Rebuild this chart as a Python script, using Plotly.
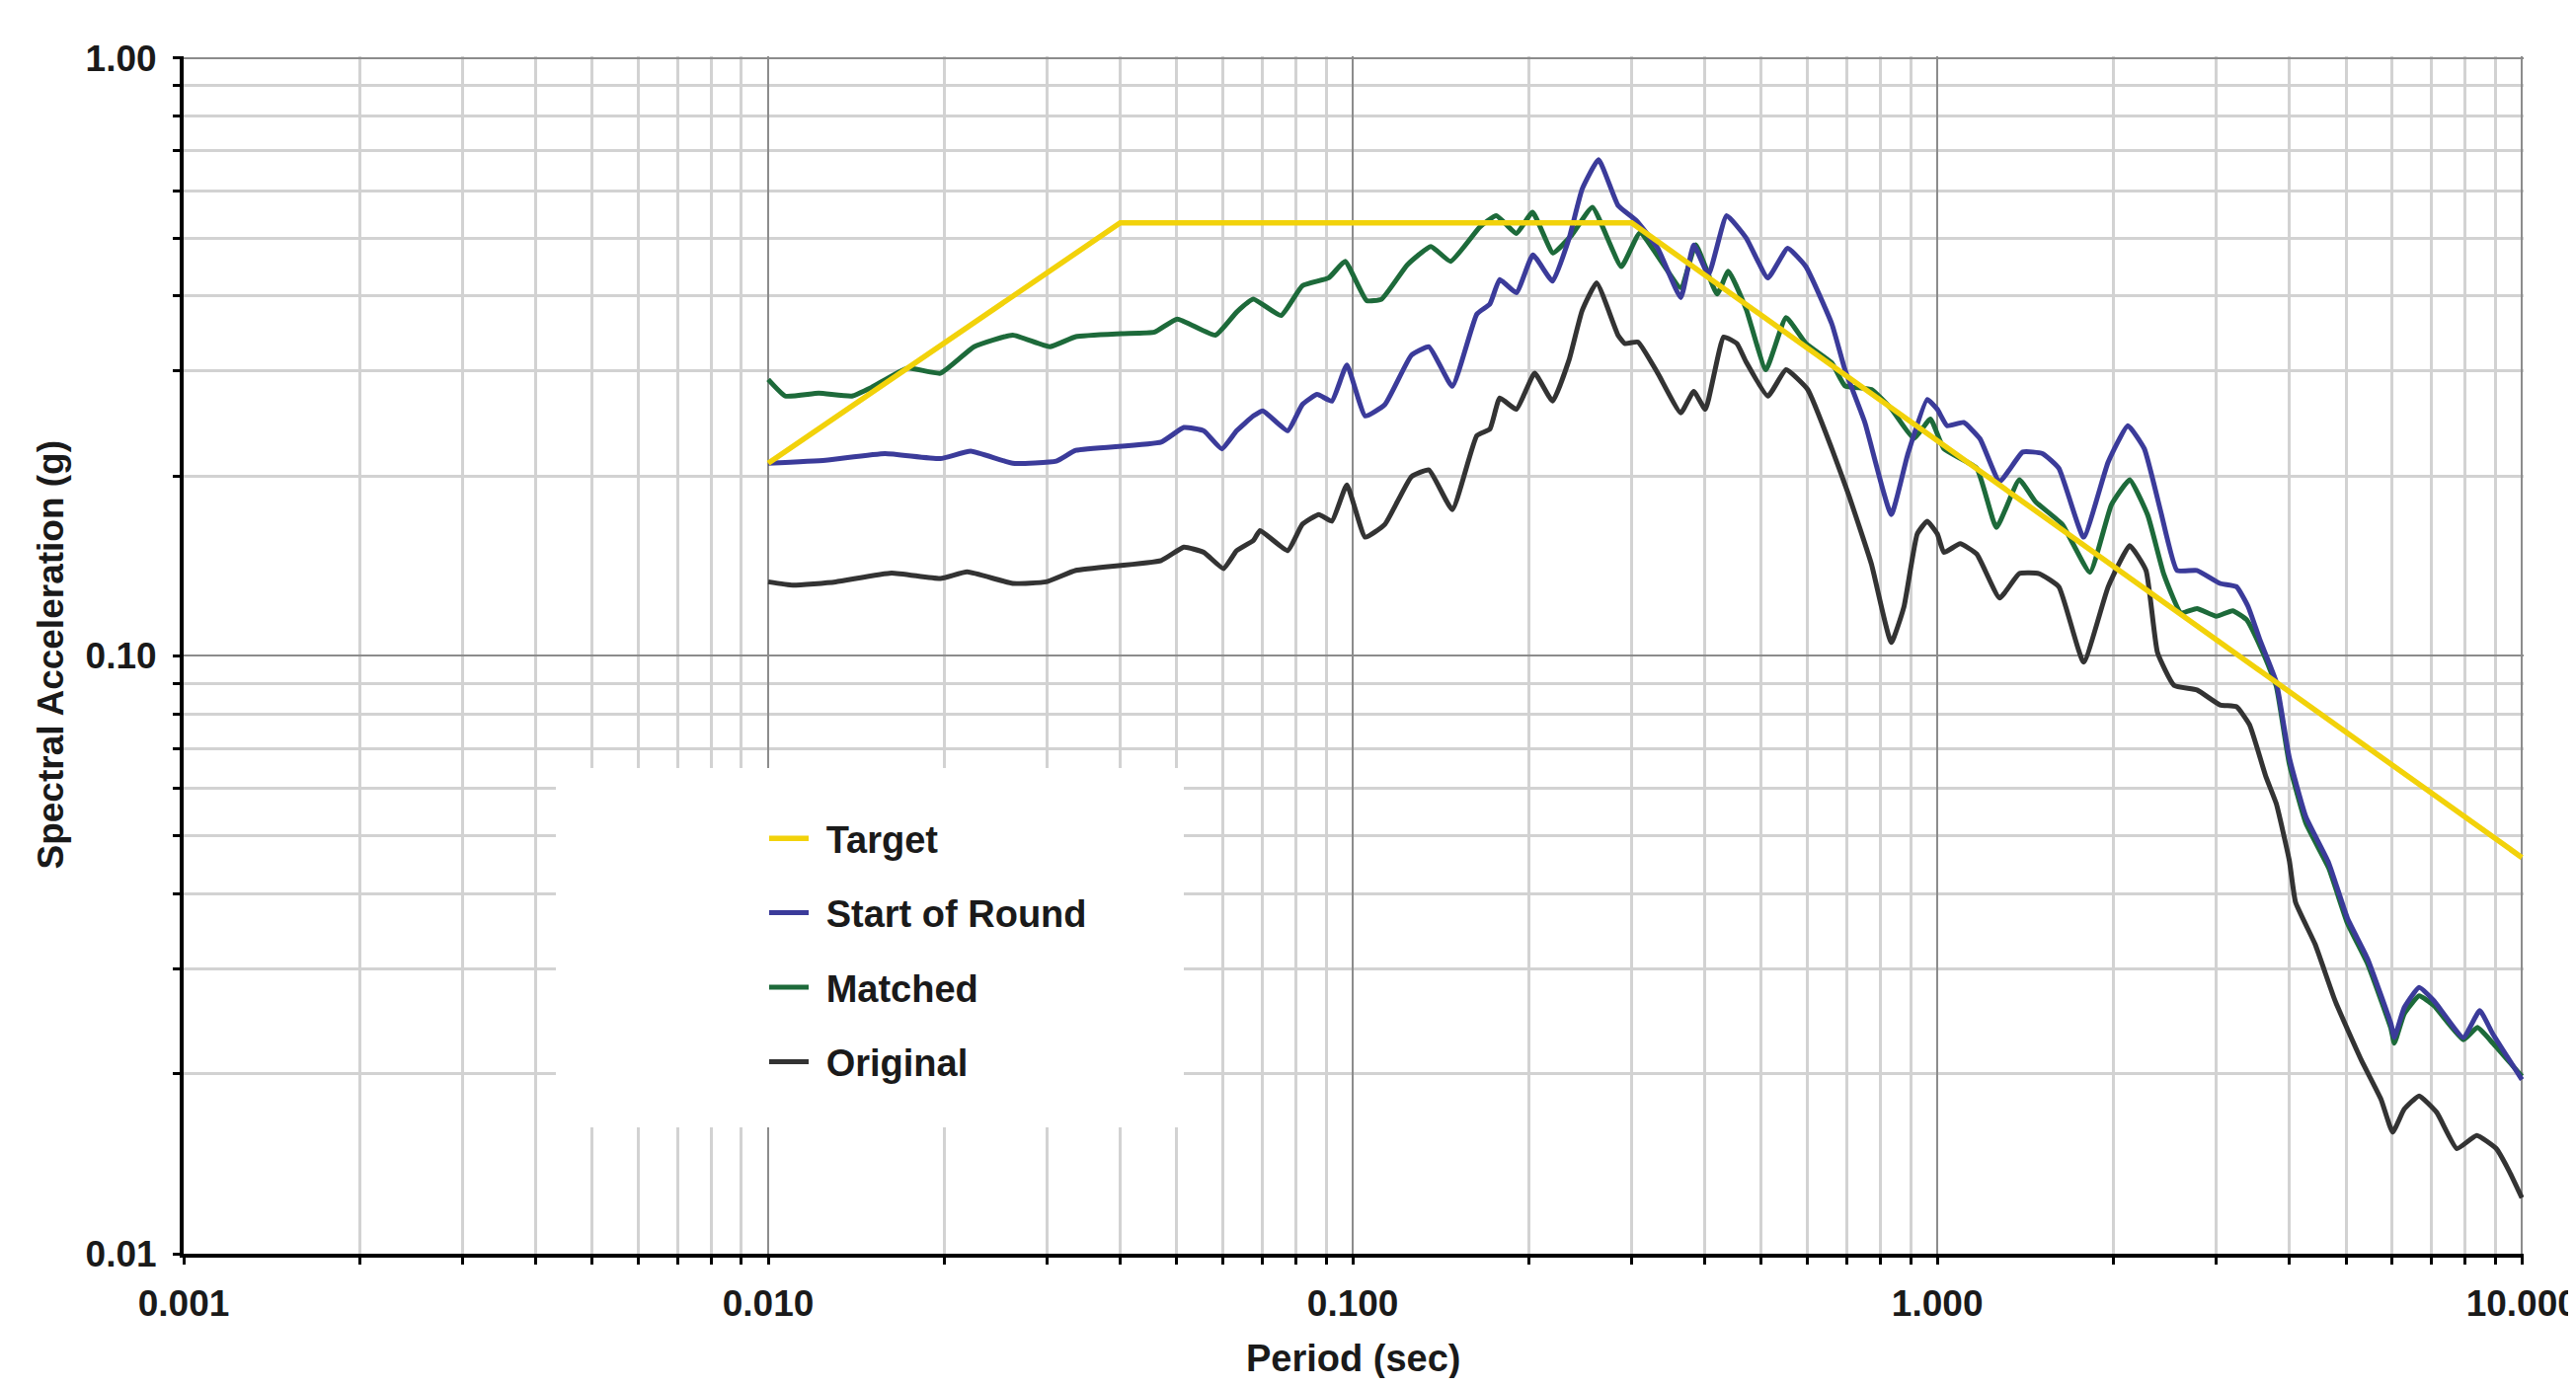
import plotly.graph_objects as go

# ─── Data ─────────────────────────────────────────────────────────────────────

target_period = [0.010, 0.040, 0.300, 10.0]
target_sa = [0.210, 0.530, 0.530, 0.046]

start_period = [
    0.0100, 0.01253, 0.01584, 0.0197, 0.0222, 0.0262, 0.0311, 0.0336, 0.0470, 0.0514,
    0.0556, 0.0597, 0.0633, 0.0676, 0.0702, 0.0774, 0.0820, 0.0869, 0.0921, 0.0977,
    0.105, 0.1135, 0.126, 0.135, 0.148, 0.163, 0.1716, 0.1784, 0.1905, 0.2033,
    0.2197, 0.2344, 0.2468, 0.2633, 0.2844, 0.3053, 0.3325, 0.364, 0.383, 0.406,
    0.436, 0.471, 0.513, 0.5545, 0.5957, 0.660, 0.695, 0.7516, 0.834, 0.889,
    0.961, 1.000, 1.039, 1.109, 1.183, 1.278, 1.400, 1.513, 1.614, 1.779,
    1.960, 2.118, 2.260, 2.410, 2.570, 2.780, 3.045, 3.250, 3.400, 3.560,
    3.800, 4.000, 4.270, 4.670, 5.030, 5.440, 5.970, 6.050, 6.290, 6.670,
    7.070, 7.940, 8.470, 8.920, 10.0,
]
start_sa = [
    0.210, 0.2125, 0.218, 0.2138, 0.220, 0.210, 0.2117, 0.2207, 0.2278, 0.241,
    0.238, 0.222, 0.238, 0.252, 0.257, 0.238, 0.2634, 0.2737, 0.2668, 0.3067,
    0.252, 0.2634, 0.3185, 0.3288, 0.2825, 0.373, 0.3877, 0.426, 0.405, 0.4685,
    0.4234, 0.4992, 0.6035, 0.676, 0.5664, 0.535, 0.4806, 0.3976, 0.4866, 0.4342,
    0.545, 0.500, 0.4287, 0.4806, 0.448, 0.359, 0.301, 0.2457, 0.1724, 0.2166,
    0.2685, 0.2585, 0.2427, 0.2457, 0.2307, 0.1957, 0.2193, 0.218, 0.206, 0.158,
    0.211, 0.2427, 0.222, 0.1746, 0.139, 0.139, 0.1322, 0.1305, 0.121, 0.1066,
    0.0904, 0.0676, 0.0538, 0.0451, 0.0364, 0.0312, 0.02425, 0.0230, 0.0258, 0.0279,
    0.0265, 0.0230, 0.0255, 0.0233, 0.01955,
]

matched_period = [
    0.0100, 0.0107, 0.0122, 0.0139, 0.0150, 0.0173, 0.0197, 0.0225, 0.0262, 0.0303,
    0.0336, 0.0402, 0.0458, 0.0501, 0.0582, 0.0633, 0.0676, 0.0754, 0.0820, 0.0910,
    0.0970, 0.1056, 0.112, 0.124, 0.136, 0.147, 0.165, 0.176, 0.1905, 0.203,
    0.220, 0.237, 0.257, 0.288, 0.310, 0.364, 0.386, 0.420, 0.439, 0.471,
    0.509, 0.551, 0.596, 0.660, 0.695, 0.771, 0.834, 0.912, 0.973, 1.026,
    1.168, 1.262, 1.381, 1.473, 1.635, 1.824, 1.985, 2.133, 2.290, 2.440,
    2.610, 2.780, 3.000, 3.200, 3.380, 3.610, 3.800, 4.000, 4.270, 4.670,
    5.030, 5.440, 5.970, 6.050, 6.290, 6.670, 7.070, 7.940, 8.390, 8.920,
    10.0,
]
matched_sa = [
    0.290, 0.272, 0.275, 0.272, 0.281, 0.303, 0.297, 0.329, 0.344, 0.329,
    0.342, 0.346, 0.348, 0.366, 0.344, 0.376, 0.395, 0.371, 0.416, 0.429,
    0.457, 0.393, 0.395, 0.451, 0.484, 0.457, 0.522, 0.545, 0.509, 0.552,
    0.472, 0.506, 0.563, 0.448, 0.510, 0.413, 0.487, 0.403, 0.440, 0.380,
    0.301, 0.368, 0.333, 0.309, 0.283, 0.279, 0.259, 0.231, 0.249, 0.222,
    0.206, 0.164, 0.197, 0.181, 0.166, 0.138, 0.179, 0.197, 0.172, 0.137,
    0.118, 0.120, 0.1165, 0.119, 0.115, 0.101, 0.089, 0.066, 0.0525, 0.0442,
    0.0357, 0.0306, 0.0238, 0.0225, 0.0252, 0.0270, 0.0260, 0.0228, 0.0239, 0.0225,
    0.0198,
]

original_period = [
    0.0100, 0.01102, 0.01304, 0.01625, 0.0197, 0.0219, 0.0262, 0.0299, 0.0336, 0.0470,
    0.0514, 0.0556, 0.0601, 0.0633, 0.0676, 0.0694, 0.0774, 0.0820, 0.0875, 0.0921,
    0.0977, 0.105, 0.1135, 0.126, 0.135, 0.148, 0.163, 0.1716, 0.1784, 0.1905,
    0.2047, 0.2197, 0.2344, 0.2468, 0.2613, 0.2844, 0.292, 0.3075, 0.3325, 0.364,
    0.383, 0.401, 0.431, 0.454, 0.471, 0.513, 0.551, 0.600, 0.660, 0.705,
    0.771, 0.834, 0.877, 0.924, 0.961, 1.000, 1.026, 1.094, 1.168, 1.278,
    1.381, 1.493, 1.614, 1.779, 1.960, 2.133, 2.275, 2.380, 2.540, 2.780,
    3.045, 3.250, 3.420, 3.650, 3.800, 4.000, 4.100, 4.430, 4.790, 5.310,
    5.740, 6.010, 6.290, 6.670, 7.150, 7.740, 8.370, 9.040, 9.520, 10.0,
]
original_sa = [
    0.133, 0.1313, 0.133, 0.1376, 0.1347, 0.1382, 0.1322, 0.133, 0.139, 0.1444,
    0.152, 0.149, 0.140, 0.150, 0.156, 0.162, 0.150, 0.166, 0.1724, 0.168,
    0.1932, 0.158, 0.166, 0.1995, 0.2046, 0.1757, 0.2335, 0.2395, 0.270, 0.2585,
    0.297, 0.2668, 0.3126, 0.378, 0.4207, 0.3437, 0.333, 0.335, 0.297, 0.255,
    0.277, 0.2585, 0.3415, 0.333, 0.310, 0.272, 0.301, 0.279, 0.222, 0.186,
    0.1426, 0.1053, 0.121, 0.160, 0.168, 0.160, 0.149, 0.154, 0.148, 0.125,
    0.1373, 0.1373, 0.1305, 0.0976, 0.1305, 0.1529, 0.139, 0.1013, 0.0893, 0.0877,
    0.0828, 0.0822, 0.0767, 0.0627, 0.0566, 0.0455, 0.0387, 0.0329, 0.0265, 0.0211,
    0.01813, 0.01597, 0.01745, 0.01836, 0.01723, 0.01499, 0.01577, 0.01499, 0.01372, 0.0124,
]

x_tickvals = [0.001, 0.01, 0.1, 1, 10]
x_ticktext = ["0.001", "0.010", "0.100", "1.000", "10.000"]
y_tickvals = [0.01, 0.1, 1]
y_ticktext = ["0.01", "0.10", "1.00"]

# ─── Style ────────────────────────────────────────────────────────────────────

FONT = "Liberation Sans, Arial, sans-serif"
TEXT_COLOR = "#1a1a1a"
MAJOR_GRID = "#8c8c8c"
MINOR_GRID = "#d2d2d2"

# the page body adds an 8px margin, so the figure is a bit smaller than the window
OFF = 8
W, H = 2609 - 2 * OFF, 1404 - 2 * OFF
# plot area wanted at x 186..2556, y 57..1270 on the page
M_L, M_T = 186 - OFF, 57 - OFF
M_R, M_B = W - (2556 - OFF), H - (1270 - OFF)
PW, PH = W - M_L - M_R, H - M_T - M_B


def px_x(x):
    # page pixel -> paper fraction
    return (x - OFF - M_L) / PW


def px_y(y):
    return (H - M_B - (y - OFF)) / PH


x_minor = [m * 10.0 ** e for e in range(-3, 1) for m in range(2, 10)]
y_minor = [m * 10.0 ** e for e in range(-2, 0) for m in range(2, 10)]

# ─── Figure ───────────────────────────────────────────────────────────────────

# drawn bottom-to-top; legendrank gives the legend order of the reference
series = [
    ("Original", original_period, original_sa, "#333333", 5, 4, "spline"),
    ("Matched", matched_period, matched_sa, "#1d6a3a", 5, 3, "spline"),
    ("Start of Round", start_period, start_sa, "#3b3b9a", 5, 2, "spline"),
    ("Target", target_period, target_sa, "#f2d20a", 5.5, 1, "linear"),
]

fig = go.Figure()
for name, xs, ys, color, width, rank, shape in series:
    line = dict(color=color, width=width, shape=shape)
    if shape == "spline":
        line["smoothing"] = 0.4
    fig.add_trace(go.Scatter(
        x=xs, y=ys, name="\u2004" + name, mode="lines",
        line=line, legendgroup=name, legendrank=rank,
    ))

axis_common = dict(
    type="log", automargin=False,
    showline=True, linecolor="black", linewidth=4,
    ticks="outside", ticklen=7, tickwidth=3, tickcolor="black",
    showgrid=True, gridcolor=MAJOR_GRID, gridwidth=2,
    tickfont=dict(family=FONT, size=37, color=TEXT_COLOR, weight="bold"),
    ticklabeloverflow="allow",
    zeroline=False,
)

fig.update_xaxes(
    range=[-3, 1.003], tickmode="array",
    tickvals=x_tickvals, ticktext=x_ticktext, ticklabelstandoff=8,
    minor=dict(tickmode="array", tickvals=x_minor, ticks="outside", ticklen=7,
               tickwidth=3, tickcolor="black", showgrid=True,
               gridcolor=MINOR_GRID, gridwidth=3),
    **axis_common,
)
fig.update_yaxes(
    range=[-2, 0.003], tickmode="array",
    tickvals=y_tickvals, ticktext=y_ticktext, ticklabelstandoff=9,
    minor=dict(tickmode="array", tickvals=y_minor, ticks="outside", ticklen=7,
               tickwidth=3, tickcolor="black", showgrid=True,
               gridcolor=MINOR_GRID, gridwidth=3),
    **axis_common,
)

# white panel behind the legend, hiding the grid
fig.add_shape(
    type="rect", xref="paper", yref="paper", layer="above",
    x0=px_x(563), x1=px_x(1199), y0=px_y(1142), y1=px_y(778),
    fillcolor="white", line=dict(width=0),
)

fig.add_annotation(
    text="Spectral Acceleration (g)", xref="paper", yref="paper",
    x=px_x(51), y=0.5, textangle=-90, showarrow=False,
    xanchor="center", yanchor="middle",
    font=dict(family=FONT, size=37, color=TEXT_COLOR, weight="bold"),
)
fig.add_annotation(
    text="Period (sec)", xref="paper", yref="paper",
    x=0.5, y=px_y(1376), showarrow=False,
    xanchor="center", yanchor="middle",
    font=dict(family=FONT, size=38, color=TEXT_COLOR, weight="bold"),
)

fig.update_layout(
    width=W, height=H, autosize=False,
    margin=dict(l=M_L, r=M_R, t=M_T, b=M_B),
    paper_bgcolor="white", plot_bgcolor="white",
    showlegend=True,
    legend=dict(
        x=px_x(774), y=px_y(818), xanchor="left", yanchor="top",
        bgcolor="rgba(0,0,0,0)", borderwidth=0,
        traceorder="grouped", tracegroupgap=23, itemwidth=40,
        font=dict(family=FONT, size=38, color=TEXT_COLOR, weight="bold"),
    ),
)

fig.write_html("out.html")
